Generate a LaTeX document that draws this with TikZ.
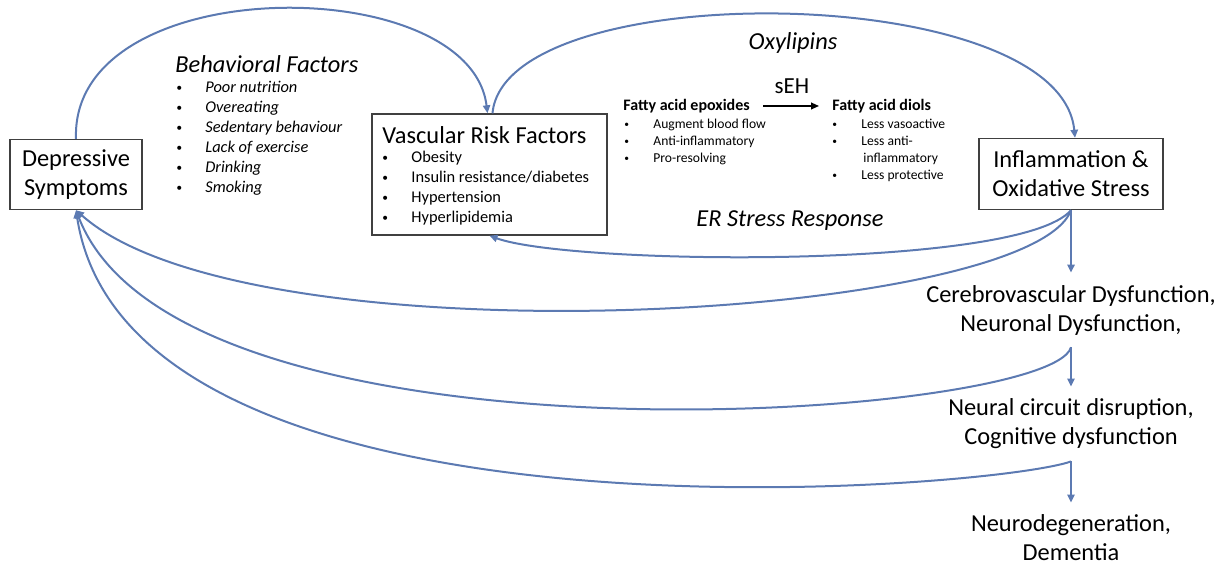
\documentclass[tikz,border=0pt]{standalone}
\usepackage{fontspec}
\setmainfont{Carlito}
\usetikzlibrary{positioning,arrows.meta}
\definecolor{linkblue}{RGB}{92,122,178}
\newcommand{\bul}{\makebox[14.5pt][l]{\raisebox{0.12ex}{\scalebox{0.7}{\textbullet}}}}

\begin{document}
\begin{tikzpicture}[x=0.5pt, y=-0.5pt,
  box/.style={draw=black!75, line width=0.7pt, align=center, inner sep=0pt},
  big/.style={font=\fontsize{12.2}{14.5}\selectfont},
  bigit/.style={font=\fontsize{12.2}{14.5}\selectfont\itshape},
  lst/.style={font=\fontsize{8.2}{10}\selectfont, anchor=west, inner sep=0pt, text height=6pt, text depth=1.6pt},
  sml/.style={font=\fontsize{6.8}{8.5}\selectfont, anchor=west, inner sep=0pt, text height=5pt, text depth=1.3pt},
  outcome/.style={big, align=center, inner xsep=0pt, inner ysep=6pt},
  link/.style={draw=linkblue, line width=1pt, -{Triangle[length=4pt,width=3.6pt]}}]
  \useasboundingbox (0,0) rectangle (1228,566);

  % main boxes
  \node[box, big, minimum width=66pt, minimum height=35pt] (dep) at (76,174.5) {Depressive\\Symptoms};
  \node[box, minimum width=117.5pt, minimum height=60.5pt] (vrf) at (489.5,174.5) {};
  \node[box, big, minimum width=92pt, minimum height=35.5pt] (inf) at (1071,174) {Inflammation \&\\Oxidative Stress};

  % behavioral factors
  \node[bigit, anchor=west, inner sep=0pt] (behtitle) at (175,64) {Behavioral Factors};
  \foreach \txt [count=\i] in {Poor nutrition, Overeating, Sedentary behaviour, Lack of exercise, Drinking, Smoking}
    \node[lst, font=\fontsize{8.2}{10}\selectfont\itshape] (beh\i) at (176,68+20*\i) {\bul\txt};

  % vascular risk factors
  \node[big, anchor=west, inner sep=0pt] (vrftitle) at (382,135) {Vascular Risk Factors};
  \foreach \txt [count=\i] in {Obesity, Insulin resistance/diabetes, Hypertension, Hyperlipidemia}
    \node[lst] (vrf\i) at (382,138+20*\i) {\bul\txt};

  % oxylipins
  \node[bigit, anchor=base] (oxy) at (793,50) {Oxylipins};
  \node[font=\fontsize{11.5}{13}\selectfont, anchor=base] (seh) at (792,94) {sEH};
  \node[font=\fontsize{8}{10}\selectfont\bfseries, anchor=west, inner sep=0pt] (epox) at (623,106) {Fatty acid epoxides};
  \node[font=\fontsize{8}{10}\selectfont\bfseries, anchor=west, inner sep=0pt] (diol) at (832,106) {Fatty acid diols};
  \draw[-{Triangle[length=4pt,width=3.4pt]}, line width=0.8pt, shorten <=6.5pt, shorten >=6.5pt] (epox) -- (diol);
  \foreach \txt [count=\i] in {Augment blood flow, Anti-inflammatory, Pro-resolving}
    \node[sml] (epox\i) at (624,108+17*\i) {\bul\txt};
  \node[sml] (diol1) at (832,125) {\bul Less vasoactive};
  \node[sml] (diol2) at (832,142) {\bul Less anti-};
  \node[sml] (diol3) at (863,159) {inflammatory};
  \node[sml] (diol4) at (832,176) {\bul Less protective};

  \node[bigit, anchor=base] (er) at (790,227) {ER Stress Response};

  % outcomes
  \node[outcome] (cvd) at (1071,310) {Cerebrovascular Dysfunction,\\Neuronal Dysfunction,};
  \node[outcome] (ncd) at (1071,424) {Neural circuit disruption,\\Cognitive dysfunction};
  \node[outcome] (neuro) at (1071,538) {Neurodegeneration,\\Dementia};

  % connectors
  \draw[link] (dep.north) .. controls (70,-30) and (470,-30) .. ([xshift=-1pt]vrf.north);
  \draw[link] ([xshift=1.5pt]vrf.north) .. controls (505,-25) and (1060,-20) .. ([xshift=2pt]inf.north);
  \draw[link] (inf.south) .. controls (1020,270) and (570,265) .. (vrf.south);
  \draw[link] (inf.south) -- (cvd.north);
  \draw[link] (cvd.south) -- (ncd.north);
  \draw[link] (ncd.south) -- (neuro.north);
  \draw[link] (inf.south) .. controls (1030,320) and (250,365) .. (dep.south);
  \draw[link] (cvd.south) .. controls (1050,420) and (180,480) .. (dep.south);
  \draw[link] (ncd.south) .. controls (990,490) and (130,560) .. (dep.south);
\end{tikzpicture}
\end{document}
